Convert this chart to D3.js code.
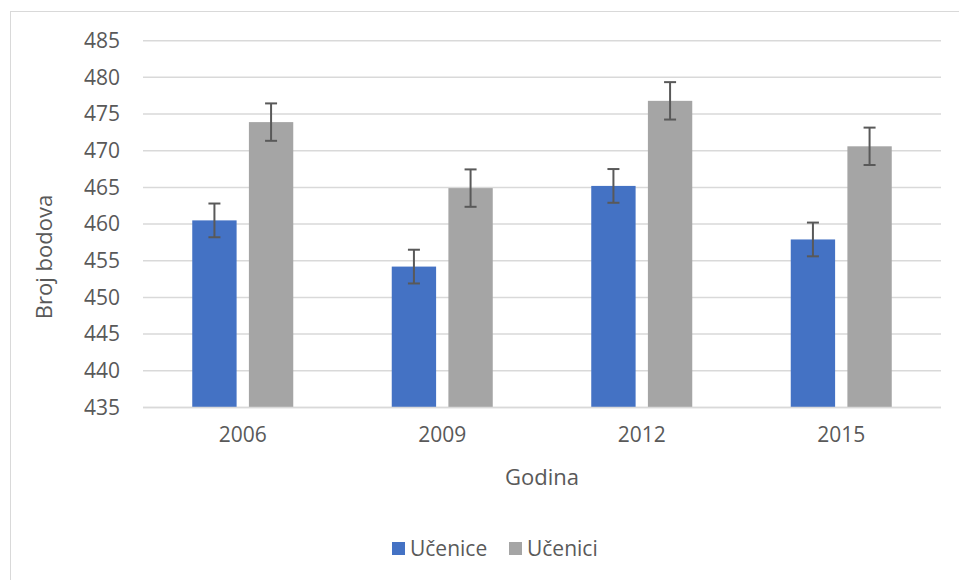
<!DOCTYPE html>
<html><head><meta charset="utf-8">
<script src="https://cdn.jsdelivr.net/npm/d3@7"></script>
<style>body{margin:0;background:#fff}svg{display:block}text{font-family:"Open Sans",sans-serif;fill:#595959}</style>
</head><body><svg id="c" width="959" height="580"></svg>
<script>
const years = ["2006","2009","2012","2015"];
const seriesNames = ["Učenice","Učenici"];
const ucenice = [460.5, 454.2, 465.2, 457.9];
const ucenici = [473.9, 464.9, 476.8, 470.6];
const uceniceErr = [2.3, 2.3, 2.3, 2.3];
const uceniciErr = [2.55, 2.55, 2.55, 2.55];
const yTicks = [435,440,445,450,455,460,465,470,475,480,485];
const colors = ["#4472c4","#a5a5a5"];

const svg = d3.select("#c");
svg.append("rect").attr("x",10.5).attr("y",11.5).attr("width",1000).attr("height",1000)
  .attr("fill","#fff").attr("stroke","#d9d9d9").attr("stroke-width",1);

const L=143, R=941, T=40.7, B=407.4;
const y = d3.scaleLinear().domain([435,485]).range([B,T]);
const x = d3.scaleBand().domain(years).range([L,R]).paddingInner(0).paddingOuter(0);
const inner = d3.scaleBand().domain(seriesNames).range([0,101]).paddingInner(0.217);
const off = (x.bandwidth()-101)/2;

// grid
svg.append("g").selectAll("line").data(yTicks).join("line")
  .attr("x1",L).attr("x2",R).attr("y1",d=>y(d)).attr("y2",d=>y(d))
  .attr("stroke","#d9d9d9").attr("stroke-width",1.5);

// y axis labels
const ya = svg.append("g").attr("transform",`translate(${L-23},0)`)
  .call(d3.axisLeft(y).tickValues(yTicks).tickSize(0).tickPadding(0));
ya.select(".domain").remove();
ya.selectAll("text").style("font-family","'Open Sans',sans-serif").style("font-size","21px").attr("fill","#595959");

// x axis labels
const xa = svg.append("g").attr("transform",`translate(0,${B+20})`)
  .call(d3.axisBottom(x).tickSize(0).tickPadding(0));
xa.select(".domain").remove();
xa.selectAll("text").style("font-family","'Open Sans',sans-serif").style("font-size","21px").attr("fill","#595959").attr("dy","0.71em");

const data = [ucenice, ucenici];
const errs = [uceniceErr, uceniciErr];
data.forEach((vals,si)=>{
  const g = svg.append("g");
  g.selectAll("rect").data(vals).join("rect")
    .attr("x",(d,i)=>x(years[i])+off+inner(seriesNames[si]))
    .attr("width",inner.bandwidth())
    .attr("y",d=>y(d)).attr("height",d=>B-y(d))
    .attr("fill",colors[si]);
});
// baseline
svg.append("line").attr("x1",L).attr("x2",R).attr("y1",B).attr("y2",B).attr("stroke","#d9d9d9").attr("stroke-width",1.5);

data.forEach((vals,si)=>{
  const g = svg.append("g").attr("stroke","#595959").attr("stroke-width",2);
  vals.forEach((v,i)=>{
    const cx = x(years[i])+off+inner(seriesNames[si])+inner.bandwidth()/2;
    const e = errs[si][i];
    g.append("line").attr("x1",cx).attr("x2",cx).attr("y1",y(v+e)).attr("y2",y(v-e));
    g.append("line").attr("x1",cx-6).attr("x2",cx+6).attr("y1",y(v+e)).attr("y2",y(v+e));
    g.append("line").attr("x1",cx-6).attr("x2",cx+6).attr("y1",y(v-e)).attr("y2",y(v-e));
  });
});

// axis titles
svg.append("text").attr("x",(L+R)/2).attr("y",485).attr("text-anchor","middle")
  .style("font-size","22px").text("Godina");
svg.append("text").attr("transform",`translate(52,257) rotate(-90)`).attr("text-anchor","middle")
  .style("font-size","22px").text("Broj bodova");

// legend
const lg = svg.append("g");
const legX = [392, 509];
seriesNames.forEach((n,i)=>{
  lg.append("rect").attr("x",legX[i]).attr("y",542).attr("width",13).attr("height",13).attr("fill",colors[i]);
  lg.append("text").attr("x",legX[i]+18).attr("y",556).style("font-size","21px").text(n);
});
</script></body></html>
